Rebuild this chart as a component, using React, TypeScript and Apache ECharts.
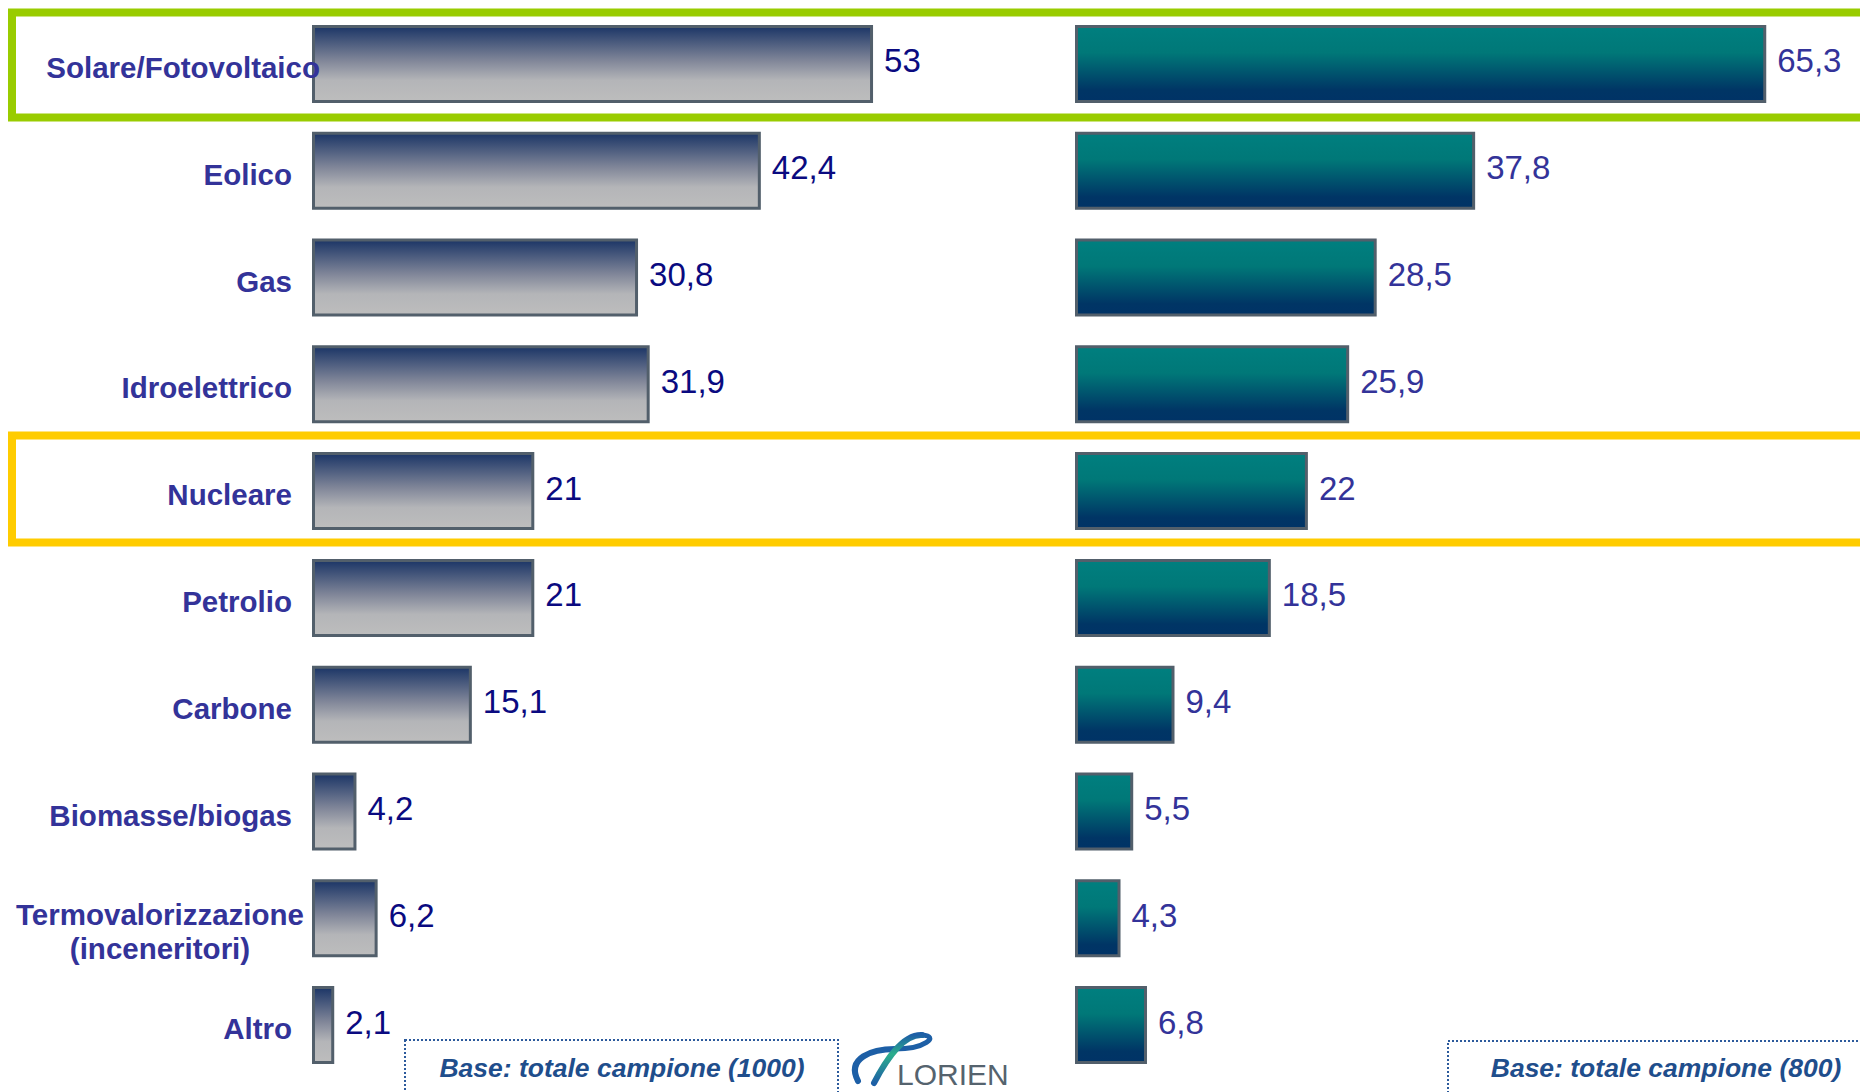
import React, { useEffect, useRef } from "react";
import * as echarts from "echarts";

const categories = [
  "Solare/Fotovoltaico",
  "Eolico",
  "Gas",
  "Idroelettrico",
  "Nucleare",
  "Petrolio",
  "Carbone",
  "Biomasse/biogas",
  "Termovalorizzazione\n(inceneritori)",
  "Altro",
];
const leftValues = [53, 42.4, 30.8, 31.9, 21, 21, 15.1, 4.2, 6.2, 2.1];
const rightValues = [65.3, 37.8, 28.5, 25.9, 22, 18.5, 9.4, 5.5, 4.3, 6.8];
const footnotes = ["Base: totale campione (1000)", "Base: totale campione (800)"];
const logoText = "LORIEN";

const FONT = "'Liberation Sans', Arial, sans-serif";

const fmt = (v: number) => String(v).replace(".", ",");

export default function App() {
  const ref = useRef<HTMLDivElement>(null);
  useEffect(() => {
    if (!ref.current) return;
    const chart = echarts.init(ref.current, null, { renderer: "svg" });
    const leftGrad = new echarts.graphic.LinearGradient(0, 0, 0, 1, [
      { offset: 0, color: "#1b3566" },
      { offset: 0.45, color: "#7f8598" },
      { offset: 0.72, color: "#b4b5b8" },
      { offset: 1, color: "#bdbdbd" },
    ]);
    const rightGrad = new echarts.graphic.LinearGradient(0, 0, 0, 1, [
      { offset: 0, color: "#007f7f" },
      { offset: 0.35, color: "#007878" },
      { offset: 0.85, color: "#003565" },
      { offset: 1, color: "#003366" },
    ]);
    const catLabel = { fontSize: 29.5, fontWeight: "bold", color: "#333399", fontFamily: FONT };
    const valLabel = { fontSize: 33, fontFamily: FONT };
    const option: any = {
      animation: false,
      backgroundColor: "#ffffff",
      grid: [
        { left: 312, top: 10.5, width: 741, height: 1068, containLabel: false, outerBoundsMode: "none" },
        { left: 1075, top: 10.5, width: 741, height: 1068, containLabel: false, outerBoundsMode: "none" },
      ],
      xAxis: [
        { type: "value", gridIndex: 0, min: 0, max: 70, show: false },
        { type: "value", gridIndex: 1, min: 0, max: 70, show: false },
      ],
      yAxis: [
        {
          type: "category",
          gridIndex: 0,
          inverse: true,
          z: 5,
          data: categories,
          axisLine: { show: false },
          axisTick: { show: false },
          splitLine: { show: false },
          axisLabel: {
            margin: -8,
            align: "right",
            ...catLabel,
            formatter: (value: string, index: number) => {
              if (index === 0) return `{s|${value}}`;
              if (value.includes("\n")) {
                const parts = value.split("\n");
                return `{g| }\n{t|${parts[0]}}\n{t|${parts[1]}}`;
              }
              return `{a|${value}}`;
            },
            rich: {
              a: { ...catLabel, padding: [7, 28, 0, 0] },
              s: { ...catLabel, padding: [7, 0, 0, 0] },
              g: { fontSize: 10, lineHeight: 26, width: 320 },
              t: { ...catLabel, width: 320, align: "center", lineHeight: 34 },
            },
          },
        },
        {
          type: "category",
          gridIndex: 1,
          inverse: true,
          data: categories,
          axisLine: { show: false },
          axisTick: { show: false },
          axisLabel: { show: false },
          splitLine: { show: false },
        },
      ],
      series: [
        {
          type: "bar",
          xAxisIndex: 0,
          yAxisIndex: 0,
          data: leftValues,
          barWidth: 78,
          itemStyle: { color: leftGrad, borderColor: "#525f6b", borderWidth: 3 },
          label: {
            show: true,
            position: "right",
            distance: 11,
            offset: [0, -3],
            ...valLabel,
            color: "#0a0a80",
            formatter: (p: any) => fmt(p.value),
          },
        },
        {
          type: "bar",
          xAxisIndex: 1,
          yAxisIndex: 1,
          data: rightValues,
          barWidth: 78,
          itemStyle: { color: rightGrad, borderColor: "#525f6b", borderWidth: 3 },
          label: {
            show: true,
            position: "right",
            distance: 11,
            offset: [0, -3],
            ...valLabel,
            color: "#333399",
            formatter: (p: any) => fmt(p.value),
          },
        },
      ],
      graphic: [
        {
          type: "rect",
          z: -1,
          shape: { x: 12, y: 12.5, width: 1900, height: 105 },
          style: { fill: "none", stroke: "#99cc00", lineWidth: 8 },
        },
        {
          type: "rect",
          z: -1,
          shape: { x: 12, y: 435.5, width: 1900, height: 107 },
          style: { fill: "none", stroke: "#ffcc00", lineWidth: 8 },
        },
        {
          type: "rect",
          shape: { x: 405, y: 1040, width: 433, height: 80 },
          style: { fill: "none", stroke: "#2c5a9c", lineWidth: 2, lineDash: [2, 2] },
        },
        {
          type: "rect",
          shape: { x: 1448, y: 1041, width: 500, height: 80 },
          style: { fill: "none", stroke: "#2c5a9c", lineWidth: 2, lineDash: [2, 2] },
        },
        {
          type: "text",
          x: 622,
          y: 1068,
          style: {
            text: footnotes[0],
            fill: "#1f4e8c",
            font: `italic bold 26.5px ${FONT}`,
            align: "center",
            verticalAlign: "middle",
          },
        },
        {
          type: "text",
          x: 1666,
          y: 1068,
          style: {
            text: footnotes[1],
            fill: "#1f4e8c",
            font: `italic bold 26.5px ${FONT}`,
            align: "center",
            verticalAlign: "middle",
          },
        },
        {
          type: "bezierCurve",
          shape: { x1: 858, y1: 1081, cpx1: 846, cpy1: 1058, cpx2: 872, cpy2: 1049, x2: 895, y2: 1049 },
          style: { fill: "none", stroke: "#1d5fa6", lineWidth: 6, lineCap: "round" },
        },
        {
          type: "bezierCurve",
          shape: { x1: 895, y1: 1049, cpx1: 925, cpy1: 1049, cpx2: 940, cpy2: 1036, x2: 922, y2: 1035 },
          style: { fill: "none", stroke: "#1d5fa6", lineWidth: 5, lineCap: "round" },
        },
        {
          type: "bezierCurve",
          shape: { x1: 922, y1: 1035, cpx1: 902, cpy1: 1034, cpx2: 885, cpy2: 1062, x2: 874, y2: 1083 },
          style: {
            fill: "none",
            stroke: new echarts.graphic.LinearGradient(0, 0, 0, 1, [
              { offset: 0, color: "#1d5fa6" },
              { offset: 0.4, color: "#2bae8c" },
              { offset: 1, color: "#1d5fa6" },
            ]),
            lineWidth: 6,
            lineCap: "round",
          },
        },
        {
          type: "text",
          x: 897,
          y: 1089,
          style: {
            text: logoText,
            fill: "#55636e",
            font: `normal 30px ${FONT}`,
            align: "left",
            verticalAlign: "bottom",
          },
        },
      ],
    };
    chart.setOption(option);
    return () => chart.dispose();
  }, []);
  return (
    <div
      ref={ref}
      style={{ position: "fixed", left: 0, top: 0, width: 1860, height: 1092, background: "#fff" }}
    />
  );
}
